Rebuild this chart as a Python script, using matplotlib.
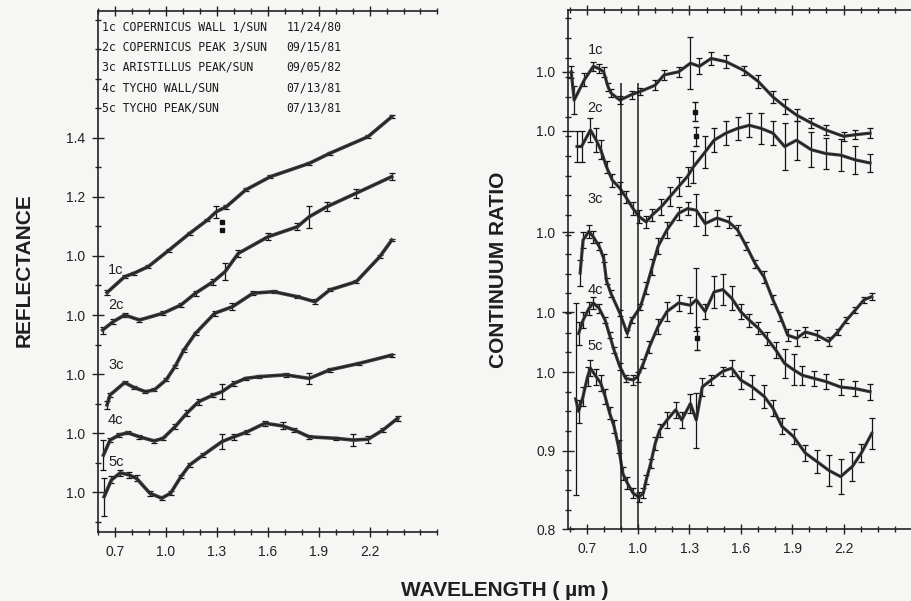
import numpy as np
import matplotlib
matplotlib.use("Agg")
import matplotlib.pyplot as plt

plt.rcParams['font.family'] = ['Liberation Sans', 'DejaVu Sans']

# ---- left panel: reflectance (each curve normalised, stacked) ----
l1_wl = [0.655, 0.759, 0.811, 0.898, 1.020, 1.142, 1.246, 1.298, 1.357, 1.471, 1.617, 1.845, 1.966, 2.190, 2.331]
l1_r = [0.876, 0.930, 0.941, 0.964, 1.020, 1.077, 1.122, 1.150, 1.167, 1.224, 1.269, 1.314, 1.348, 1.404, 1.472]
l1_e = [0.008, 0.005, 0.005, 0.005, 0.005, 0.005, 0.005, 0.020, 0.006, 0.005, 0.005, 0.006, 0.006, 0.005, 0.005]

l2_wl = [0.629, 0.690, 0.759, 0.846, 0.985, 1.090, 1.176, 1.280, 1.350, 1.428, 1.602, 1.775, 1.845, 1.949, 2.122, 2.331]
l2_r = [0.949, 0.977, 1.000, 0.983, 1.006, 1.034, 1.074, 1.113, 1.147, 1.209, 1.265, 1.299, 1.333, 1.367, 1.413, 1.469]
l2_e = [0.012, 0.008, 0.008, 0.008, 0.006, 0.006, 0.008, 0.010, 0.030, 0.012, 0.012, 0.012, 0.038, 0.015, 0.015, 0.012]

l3_wl = [0.655, 0.673, 0.759, 0.811, 0.881, 0.933, 1.003, 1.055, 1.107, 1.176, 1.289, 1.393, 1.515, 1.636, 1.775, 1.879, 1.966, 2.122, 2.261, 2.331]
l3_r = [0.895, 0.929, 0.971, 0.955, 0.940, 0.946, 0.980, 1.025, 1.081, 1.138, 1.206, 1.228, 1.274, 1.279, 1.262, 1.245, 1.285, 1.313, 1.398, 1.454]
l3_e = [0.012, 0.006, 0.005, 0.005, 0.005, 0.005, 0.005, 0.005, 0.005, 0.005, 0.008, 0.012, 0.006, 0.005, 0.006, 0.008, 0.005, 0.004, 0.004, 0.004]

l4_wl = [0.634, 0.673, 0.725, 0.777, 0.846, 0.933, 0.985, 1.055, 1.124, 1.194, 1.280, 1.332, 1.402, 1.471, 1.549, 1.706, 1.845, 1.966, 2.140, 2.331]
l4_r = [0.925, 0.976, 0.993, 1.001, 0.987, 0.973, 0.982, 1.021, 1.067, 1.106, 1.129, 1.140, 1.168, 1.185, 1.191, 1.197, 1.185, 1.214, 1.236, 1.264]
l4_e = [0.050, 0.008, 0.008, 0.006, 0.006, 0.006, 0.006, 0.008, 0.010, 0.010, 0.008, 0.025, 0.008, 0.006, 0.006, 0.006, 0.020, 0.006, 0.005, 0.005]

l5_wl = [0.638, 0.681, 0.733, 0.785, 0.829, 0.907, 0.977, 1.029, 1.090, 1.142, 1.220, 1.332, 1.402, 1.480, 1.584, 1.689, 1.758, 1.845, 2.001, 2.105, 2.192, 2.279, 2.366]
l5_r = [0.984, 1.041, 1.065, 1.058, 1.046, 0.996, 0.979, 0.996, 1.052, 1.092, 1.125, 1.171, 1.187, 1.204, 1.233, 1.224, 1.210, 1.187, 1.182, 1.176, 1.179, 1.210, 1.250]
l5_e = [0.065, 0.012, 0.010, 0.010, 0.010, 0.008, 0.006, 0.006, 0.006, 0.008, 0.008, 0.025, 0.010, 0.006, 0.008, 0.012, 0.006, 0.006, 0.006, 0.020, 0.012, 0.008, 0.008]

# stray points near 1.33 um on curve 1c
l1_out_wl = [1.330, 1.330]
l1_out_r = [1.116, 1.088]

refl_names = ['1c', '2c', '3c', '4c', '5c']
legend_rows = [
    ('1c COPERNICUS WALL 1/SUN', '11/24/80'),
    ('2c COPERNICUS PEAK 3/SUN', '09/15/81'),
    ('3c ARISTILLUS PEAK/SUN', '09/05/82'),
    ('4c TYCHO WALL/SUN', '07/13/81'),
    ('5c TYCHO PEAK/SUN', '07/13/81'),
]

# ---- right panel: continuum ratio ----
r1_wl = [0.610, 0.627, 0.687, 0.739, 0.773, 0.799, 0.825, 0.842, 0.894, 0.962, 1.014, 1.100, 1.152, 1.237, 1.306, 1.358, 1.427, 1.513, 1.616, 1.701, 1.788, 1.856, 1.926, 2.011, 2.097, 2.200, 2.269, 2.355]
r1_v = [1.000, 0.964, 0.990, 1.007, 1.004, 1.000, 0.981, 0.973, 0.964, 0.971, 0.975, 0.983, 0.996, 1.000, 1.011, 1.007, 1.017, 1.013, 1.002, 0.988, 0.968, 0.956, 0.945, 0.935, 0.926, 0.918, 0.920, 0.922]
r1_e = [0.008, 0.018, 0.008, 0.006, 0.006, 0.006, 0.005, 0.005, 0.005, 0.005, 0.005, 0.006, 0.006, 0.006, 0.033, 0.010, 0.008, 0.008, 0.006, 0.008, 0.008, 0.010, 0.008, 0.006, 0.006, 0.006, 0.006, 0.006]

r2_wl = [0.644, 0.670, 0.722, 0.756, 0.782, 0.816, 0.850, 0.894, 0.928, 0.971, 1.005, 1.048, 1.083, 1.134, 1.186, 1.237, 1.289, 1.323, 1.392, 1.444, 1.513, 1.581, 1.650, 1.719, 1.788, 1.856, 1.926, 2.011, 2.097, 2.183, 2.269, 2.355]
r2_v = [0.980, 0.980, 1.001, 0.988, 0.976, 0.954, 0.937, 0.927, 0.916, 0.901, 0.891, 0.884, 0.893, 0.903, 0.916, 0.929, 0.942, 0.954, 0.973, 0.988, 0.997, 1.003, 1.007, 1.003, 0.997, 0.980, 0.988, 0.976, 0.971, 0.969, 0.963, 0.959]
r2_e = [0.020, 0.020, 0.015, 0.015, 0.012, 0.008, 0.008, 0.008, 0.008, 0.008, 0.008, 0.008, 0.008, 0.010, 0.012, 0.012, 0.012, 0.020, 0.020, 0.015, 0.015, 0.015, 0.015, 0.020, 0.015, 0.030, 0.025, 0.022, 0.020, 0.020, 0.018, 0.012]

r3_wl = [0.662, 0.679, 0.713, 0.739, 0.773, 0.799, 0.816, 0.842, 0.894, 0.937, 0.962, 1.014, 1.048, 1.083, 1.117, 1.169, 1.237, 1.289, 1.340, 1.392, 1.461, 1.530, 1.581, 1.633, 1.684, 1.736, 1.788, 1.831, 1.874, 1.926, 1.977, 2.045, 2.114, 2.166, 2.217, 2.269, 2.320, 2.365]
r3_v = [0.948, 0.990, 1.001, 0.994, 0.982, 0.967, 0.938, 0.922, 0.897, 0.871, 0.888, 0.905, 0.929, 0.956, 0.982, 1.003, 1.024, 1.030, 1.028, 1.011, 1.018, 1.013, 1.003, 0.982, 0.960, 0.943, 0.914, 0.893, 0.869, 0.865, 0.873, 0.869, 0.861, 0.873, 0.888, 0.901, 0.914, 0.918]
r3_e = [0.016, 0.010, 0.008, 0.008, 0.005, 0.005, 0.004, 0.004, 0.004, 0.004, 0.004, 0.004, 0.008, 0.010, 0.010, 0.010, 0.008, 0.008, 0.020, 0.015, 0.010, 0.008, 0.006, 0.005, 0.005, 0.008, 0.006, 0.006, 0.008, 0.010, 0.006, 0.006, 0.006, 0.004, 0.004, 0.004, 0.004, 0.004]

r4_wl = [0.653, 0.679, 0.713, 0.739, 0.773, 0.808, 0.834, 0.860, 0.894, 0.928, 0.971, 0.997, 1.031, 1.066, 1.117, 1.169, 1.237, 1.306, 1.340, 1.392, 1.444, 1.495, 1.547, 1.599, 1.650, 1.702, 1.753, 1.805, 1.856, 1.908, 1.959, 2.028, 2.097, 2.183, 2.269, 2.355]
r4_v = [0.973, 0.990, 1.005, 1.012, 1.005, 0.990, 0.971, 0.952, 0.931, 0.916, 0.914, 0.918, 0.935, 0.956, 0.982, 1.001, 1.012, 1.009, 1.016, 1.001, 1.026, 1.029, 1.018, 1.001, 0.990, 0.980, 0.967, 0.952, 0.935, 0.927, 0.920, 0.916, 0.912, 0.905, 0.903, 0.899]
r4_e = [0.015, 0.010, 0.008, 0.008, 0.006, 0.004, 0.004, 0.004, 0.004, 0.004, 0.006, 0.006, 0.006, 0.008, 0.010, 0.012, 0.010, 0.010, 0.040, 0.010, 0.020, 0.020, 0.015, 0.010, 0.008, 0.008, 0.008, 0.010, 0.018, 0.020, 0.012, 0.010, 0.010, 0.010, 0.010, 0.010]

r5_wl = [0.636, 0.653, 0.679, 0.705, 0.722, 0.756, 0.782, 0.808, 0.834, 0.860, 0.886, 0.911, 0.937, 0.971, 1.005, 1.031, 1.048, 1.074, 1.100, 1.126, 1.169, 1.220, 1.255, 1.306, 1.340, 1.375, 1.427, 1.495, 1.547, 1.599, 1.668, 1.737, 1.788, 1.840, 1.908, 1.977, 2.046, 2.114, 2.183, 2.252, 2.304, 2.365]
r5_v = [0.966, 0.950, 0.969, 0.994, 1.005, 0.994, 0.986, 0.969, 0.948, 0.931, 0.905, 0.871, 0.859, 0.846, 0.841, 0.846, 0.863, 0.884, 0.909, 0.926, 0.939, 0.952, 0.939, 0.960, 0.939, 0.981, 0.990, 1.001, 1.005, 0.990, 0.981, 0.969, 0.954, 0.931, 0.918, 0.897, 0.886, 0.875, 0.867, 0.880, 0.897, 0.922]
r5_e = [0.122, 0.015, 0.012, 0.012, 0.010, 0.010, 0.010, 0.010, 0.008, 0.008, 0.008, 0.008, 0.008, 0.006, 0.006, 0.006, 0.006, 0.006, 0.008, 0.008, 0.010, 0.010, 0.010, 0.012, 0.035, 0.012, 0.006, 0.006, 0.010, 0.012, 0.015, 0.015, 0.010, 0.010, 0.010, 0.010, 0.015, 0.020, 0.022, 0.018, 0.012, 0.020]

# stray points near 1.33 um (2c and 4c)
r2_out_wl = [1.332, 1.340]
r2_out_v = [1.024, 0.993]
r4_out_wl = [1.345]
r4_out_v = [0.967]

# vertical offsets used to stack the spectra
refl_shift = [-0.2, -0.4, -0.6, -0.8, -1.0]
ratio_shift = [0.382, 0.307, 0.178, 0.076, 0.0]

LINE = '#3c3c3c'
BAR = '#141414'
PAPER = '#f6f6f4'


def draw(ax, wl, val, err, shift, lw=2.6):
    y = np.array(val) + shift
    ax.errorbar(wl, y, yerr=err, fmt='-', color=LINE, lw=lw, ecolor=BAR,
                elinewidth=0.9, capsize=2.0, capthick=0.9, zorder=3)
    ax.plot(wl, y, '-', color=BAR, lw=0.6, zorder=4)


def style_x(ax, labels_at):
    ax.set_xticks(labels_at)
    ax.set_xticklabels(['%.1f' % v for v in labels_at])
    ax.set_xticks(np.arange(0.6, 2.61, 0.1), minor=True)
    ax.tick_params(axis='x', which='major', direction='inout', length=7, width=1.0,
                   labelsize=10, pad=6, top=True, colors='#222')
    ax.tick_params(axis='x', which='minor', direction='inout', length=5, width=1.0, top=True,
                   colors='#222')


fig = plt.figure(figsize=(9.12, 6.01), dpi=100, facecolor=PAPER)

# ---------------- left ----------------
axL = fig.add_axes([0.1071, 0.1148, 0.3726, 0.8669], facecolor=PAPER)
left_sets = [(l1_wl, l1_r, l1_e), (l2_wl, l2_r, l2_e), (l3_wl, l3_r, l3_e),
             (l4_wl, l4_r, l4_e), (l5_wl, l5_r, l5_e)]
for (wl, v, e), s in zip(left_sets, refl_shift):
    draw(axL, wl, v, e, s)
axL.plot(l1_out_wl, np.array(l1_out_r) + refl_shift[0], 's', color=BAR, ms=2.2)

for name, s, yy in zip(refl_names, refl_shift, [0.953, 0.834, 0.631, 0.444, 0.303]):
    axL.text(0.707, yy - 0.2, name, fontsize=10.5, color='#222', va='center', ha='center')

for i, (lab, date) in enumerate(legend_rows):
    yy = 0.969 - i * 0.0387
    axL.text(0.012, yy, lab, transform=axL.transAxes, fontsize=8.3,
             family='DejaVu Sans Mono', color='#1a1a1a', va='center')
    axL.text(0.556, yy, date, transform=axL.transAxes, fontsize=8.3,
             family='DejaVu Sans Mono', color='#1a1a1a', va='center')

axL.set_xlim(0.6, 2.37)
axL.set_ylim(-0.1356, 1.6305)
axL.set_yticks([0.0, 0.2, 0.4, 0.6, 0.8, 1.0, 1.2])
axL.set_yticklabels(['1.0', '1.0', '1.0', '1.0', '1.0', '1.2', '1.4'])
axL.set_yticks(np.arange(-0.1, 1.61, 0.1), minor=True)
axL.tick_params(axis='y', which='major', direction='inout', length=8, width=1.0,
                labelsize=10, pad=5, colors='#222')
axL.tick_params(axis='y', which='minor', direction='inout', length=4, width=1.0, colors='#222')
style_x(axL, [0.7, 1.0, 1.3, 1.6, 1.9, 2.2])
axL.spines['right'].set_visible(False)
for sp in ['left', 'bottom', 'top']:
    axL.spines[sp].set_linewidth(1.2)
    axL.spines[sp].set_color('#222')

# ---------------- right ----------------
axR = fig.add_axes([0.6228, 0.1193, 0.3772, 0.8641], facecolor=PAPER)
right_sets = [(r1_wl, r1_v, r1_e), (r2_wl, r2_v, r2_e), (r3_wl, r3_v, r3_e),
              (r4_wl, r4_v, r4_e), (r5_wl, r5_v, r5_e)]
for (wl, v, e), s in zip(right_sets, ratio_shift):
    draw(axR, wl, v, e, s, lw=2.3)
axR.errorbar(r2_out_wl, np.array(r2_out_v) + ratio_shift[1], yerr=0.012, fmt='s',
             color=BAR, ms=2.2, elinewidth=0.9, capsize=2.0)
axR.errorbar(r4_out_wl, np.array(r4_out_v) + ratio_shift[3], yerr=0.015, fmt='s',
             color=BAR, ms=2.2, elinewidth=0.9, capsize=2.0)

axR.vlines([0.9, 1.0], 0.8, 1.368, color='#1a1a1a', lw=1.1, zorder=5)

for name, yy in zip(refl_names, [1.410, 1.336, 1.220, 1.104, 1.033]):
    axR.text(0.75, yy, name, fontsize=10.5, color='#222', va='center', ha='center')

axR.set_xlim(0.591, 2.365)
axR.set_ylim(0.8, 1.4607)
major_r = [0.8, 0.9] + [1.0 + s for s in ratio_shift[::-1]]
axR.set_yticks(major_r)
axR.set_yticklabels(['0.8', '0.9', '1.0', '1.0', '1.0', '1.0', '1.0'])
axR.set_yticks(np.arange(0.8, 1.46, 0.025), minor=True)
axR.tick_params(axis='y', which='major', direction='inout', length=8, width=1.0,
                labelsize=10, pad=5, colors='#222')
axR.tick_params(axis='y', which='minor', direction='inout', length=4, width=1.0, colors='#222')
style_x(axR, [0.7, 1.0, 1.3, 1.6, 1.9, 2.2])
axR.spines['right'].set_visible(False)
for sp in ['left', 'bottom', 'top']:
    axR.spines[sp].set_linewidth(1.2)
    axR.spines[sp].set_color('#222')

fig.text(0.027, 0.551, 'REFLECTANCE', rotation=90, fontsize=15, fontweight='bold',
         color='#1e1e1e', ha='center', va='center')
fig.text(0.547, 0.551, 'CONTINUUM RATIO', rotation=90, fontsize=15, fontweight='bold',
         color='#1e1e1e', ha='center', va='center')
fig.text(0.554, 0.018, 'WAVELENGTH ( \u00b5m )', fontsize=15, fontweight='bold',
         color='#1e1e1e', ha='center', va='center')

fig.savefig('out.png', dpi=100, facecolor=PAPER)
